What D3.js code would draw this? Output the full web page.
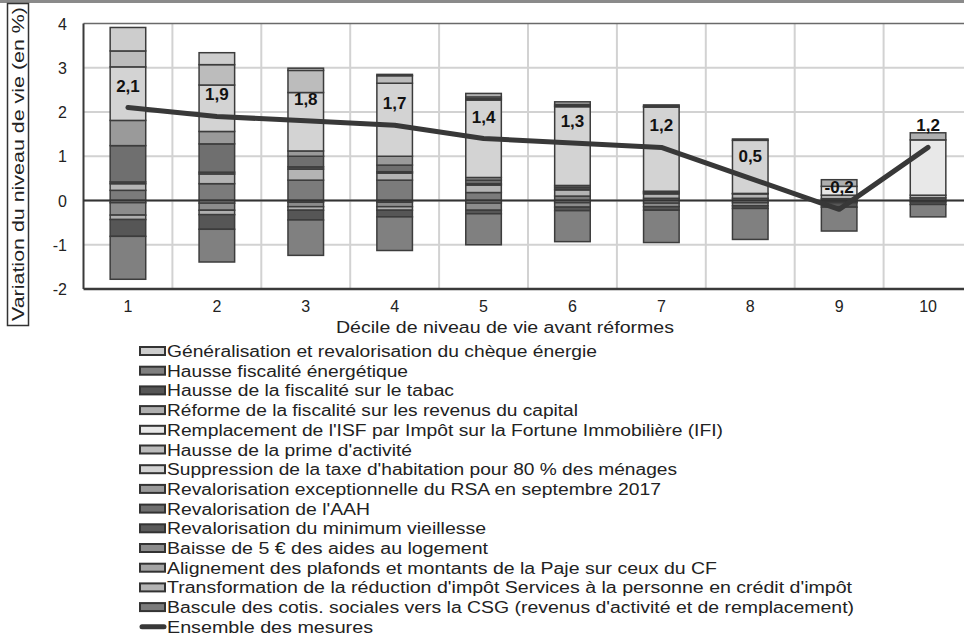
<!DOCTYPE html>
<html lang="fr">
<head>
<meta charset="utf-8">
<script src="https://cdn.jsdelivr.net/npm/d3@7"></script>
<style>
  html, body { margin: 0; padding: 0; background: #fff; }
  svg { display: block; font-family: "Liberation Sans", Arial, sans-serif; }
</style>
</head>
<body>
<svg id="chart" width="964" height="635"></svg>
<script>
// Déciles de niveau de vie
const deciles = ["1", "2", "3", "4", "5", "6", "7", "8", "9", "10"];

// Contribution de chaque mesure à la variation du niveau de vie (en %)
const chequeEnergie        = [0.53, 0.27, 0.05, 0.03, 0, 0, 0, 0, 0, 0];
const fiscaliteEnergetique = [-0.97, -0.74, -0.80, -0.76, -0.70, -0.70, -0.73, -0.70, -0.54, -0.28];
const fiscaliteTabac       = [-0.38, -0.33, -0.22, -0.15, -0.08, -0.08, -0.08, -0.06, -0.10, -0.06];
const revenusCapital       = [-0.10, -0.10, -0.08, -0.08, 0.08, 0.06, 0.03, 0.03, 0.15, 0.16];
const remplacementISF      = [0, 0, 0, 0, 0.04, 0.03, 0, 0, 0.20, 1.25];
const primeActivite        = [0.36, 0.46, 0.50, 0.17, 0.03, 0.02, 0.02, 0, 0, 0];
const taxeHabitation       = [1.21, 1.05, 1.32, 1.65, 1.75, 1.78, 1.90, 1.20, 0, 0];
const revalorisationRSA    = [0.57, 0.28, 0.12, 0.20, 0.06, 0.04, 0.02, 0, 0, 0];
const revalorisationAAH    = [0.82, 0.64, 0.24, 0.15, 0.08, 0.04, 0.02, 0.01, 0, 0];
const minimumVieillesse    = [0.04, 0.04, 0.05, 0.03, 0.03, 0.02, 0.02, 0, 0, 0];
const aidesLogement        = [-0.28, -0.16, -0.10, -0.10, -0.16, -0.10, -0.08, -0.07, -0.02, 0];
const alignementPaje       = [-0.05, -0.06, -0.04, -0.04, -0.06, -0.05, -0.06, -0.05, -0.03, -0.03];
const servicesPersonne     = [0.15, 0.22, 0.25, 0.16, 0.17, 0.14, 0.10, 0.10, 0.08, 0.06];
const basculeCSG           = [0.23, 0.38, 0.46, 0.46, 0.18, 0.10, 0.05, 0.05, 0.04, 0.06];

// Effet de l'ensemble des mesures (en %)
const ensembleMesures = [2.1, 1.9, 1.8, 1.7, 1.4, 1.3, 1.2, 0.5, -0.2, 1.2];

// Graduations de l'axe vertical
const yTicks = [-2, -1, 0, 1, 2, 3, 4];

// Séries dans l'ordre de la légende (w : largeur du libellé)
const series = [
  { key: "cheque",   label: "Généralisation et revalorisation du chèque énergie", values: chequeEnergie, color: "#cdcdcd", w: 430 },
  { key: "energie",  label: "Hausse fiscalité énergétique", values: fiscaliteEnergetique, color: "#808080", w: 241 },
  { key: "tabac",    label: "Hausse de la fiscalité sur le tabac", values: fiscaliteTabac, color: "#565656", w: 287 },
  { key: "capital",  label: "Réforme de la fiscalité sur les revenus du capital", values: revenusCapital, color: "#afafaf", w: 411 },
  { key: "isf",      label: "Remplacement de l'ISF par Impôt sur la Fortune Immobilière (IFI)", values: remplacementISF, color: "#e8e8e8", w: 556 },
  { key: "prime",    label: "Hausse de la prime d'activité", values: primeActivite, color: "#bcbcbc", w: 245 },
  { key: "th",       label: "Suppression de la taxe d'habitation pour 80 % des ménages", values: taxeHabitation, color: "#d3d3d3", w: 510 },
  { key: "rsa",      label: "Revalorisation exceptionnelle du RSA en septembre 2017", values: revalorisationRSA, color: "#9a9a9a", w: 494 },
  { key: "aah",      label: "Revalorisation de l'AAH", values: revalorisationAAH, color: "#6f6f6f", w: 203 },
  { key: "mv",       label: "Revalorisation du minimum vieillesse", values: minimumVieillesse, color: "#5a5a5a", w: 319 },
  { key: "apl",      label: "Baisse de 5 € des aides au logement", values: aidesLogement, color: "#8c8c8c", w: 321 },
  { key: "paje",     label: "Alignement des plafonds et montants de la Paje sur ceux du CF", values: alignementPaje, color: "#a4a4a4", w: 550 },
  { key: "services", label: "Transformation de la réduction d'impôt Services à la personne en crédit d'impôt", values: servicesPersonne, color: "#b4b4b4", w: 685 },
  { key: "csg",      label: "Bascule des cotis. sociales vers la CSG (revenus d'activité et de remplacement)", values: basculeCSG, color: "#7b7b7b", w: 687 }
];

const svg = d3.select("#chart");
const W = 964, H = 635;
const plot = { left: 83.5, right: 972.5, top: 23.5, bottom: 289 };

// Bandeau gris en haut du cadre
svg.append("rect").attr("x", 0).attr("y", 0).attr("width", W).attr("height", 3).attr("fill", "#8a8a8a");

const x = d3.scaleBand().domain(deciles).range([plot.left, plot.right])
  .paddingInner(0.6).paddingOuter(0.3);
const y = d3.scaleLinear().domain([-2, 4]).range([plot.bottom, plot.top]);

// Grille
const grid = svg.append("g");
grid.selectAll("line.h").data(yTicks.filter(t => t !== -2 && t !== 4)).join("line")
  .attr("x1", plot.left).attr("x2", plot.right)
  .attr("y1", d => y(d)).attr("y2", d => y(d))
  .attr("stroke", "#d2d2d2").attr("stroke-width", 2);
grid.selectAll("line.v").data(deciles.slice(1)).join("line")
  .attr("x1", d => x(d) - x.step() * x.paddingInner() / 2)
  .attr("x2", d => x(d) - x.step() * x.paddingInner() / 2)
  .attr("y1", plot.top).attr("y2", plot.bottom)
  .attr("stroke", "#d2d2d2").attr("stroke-width", 2);

// Cadre de la zone de tracé
svg.append("line").attr("x1", plot.left).attr("x2", plot.right).attr("y1", plot.top).attr("y2", plot.top)
  .attr("stroke", "#6a6a6a").attr("stroke-width", 1.5);
svg.append("line").attr("x1", plot.left).attr("x2", plot.left).attr("y1", plot.top).attr("y2", plot.bottom)
  .attr("stroke", "#3a3a3a").attr("stroke-width", 2);
svg.append("line").attr("x1", plot.left).attr("x2", plot.right).attr("y1", plot.bottom).attr("y2", plot.bottom)
  .attr("stroke", "#3a3a3a").attr("stroke-width", 2.5);

// Empilement : la série la plus proche de zéro est la dernière de la légende
const stackOrder = series.slice().reverse();
const table = deciles.map((d, i) => {
  const row = { decile: d };
  series.forEach(s => { row[s.key] = s.values[i]; });
  return row;
});
const stacked = d3.stack().keys(stackOrder.map(s => s.key))
  .offset(d3.stackOffsetDiverging)(table);
const colorOf = Object.fromEntries(series.map(s => [s.key, s.color]));

const bars = svg.append("g");
stacked.forEach(layer => {
  bars.append("g").attr("fill", colorOf[layer.key])
    .selectAll("rect").data(layer.filter(d => d[1] - d[0] !== 0)).join("rect")
    .attr("x", d => x(d.data.decile))
    .attr("width", x.bandwidth())
    .attr("y", d => y(Math.max(d[0], d[1])))
    .attr("height", d => Math.abs(y(d[0]) - y(d[1])))
    .attr("stroke", "#3c3c3c").attr("stroke-width", 1.5);
});

// Ligne du zéro
svg.append("line").attr("x1", plot.left).attr("x2", plot.right).attr("y1", y(0)).attr("y2", y(0))
  .attr("stroke", "#333").attr("stroke-width", 1.8);

// Ligne : ensemble des mesures
const cx = d => x(d) + x.bandwidth() / 2;
const lineGen = d3.line().x((v, i) => cx(deciles[i])).y(v => y(v));
svg.append("path").datum(ensembleMesures).attr("d", lineGen)
  .attr("fill", "none").attr("stroke", "#383838").attr("stroke-width", 5)
  .attr("stroke-linecap", "round").attr("stroke-linejoin", "round");

// Étiquettes de valeurs
const fmt = v => d3.format(".1f")(v).replace(".", ",").replace("−", "-");
svg.append("g").selectAll("text").data(ensembleMesures).join("text")
  .attr("x", (v, i) => cx(deciles[i]))
  .attr("y", v => y(v) - 16)
  .attr("text-anchor", "middle")
  .attr("font-size", 17).attr("font-weight", "bold").attr("fill", "#111")
  .text(fmt);

// Axe vertical : libellés
svg.append("g").selectAll("text").data(yTicks).join("text")
  .attr("x", 67).attr("y", d => y(d) + 6)
  .attr("text-anchor", "end").attr("font-size", 16).attr("fill", "#222")
  .text(d => d3.format("d")(d).replace("−", "-"));

// Axe horizontal : libellés
svg.append("g").selectAll("text").data(deciles).join("text")
  .attr("x", d => cx(d)).attr("y", 312)
  .attr("text-anchor", "middle").attr("font-size", 16).attr("fill", "#222")
  .text(d => d);

// Titre de l'axe horizontal
svg.append("text").attr("x", 505).attr("y", 333).attr("text-anchor", "middle")
  .attr("font-size", 16).attr("fill", "#222")
  .attr("textLength", 338).attr("lengthAdjust", "spacingAndGlyphs")
  .text("Décile de niveau de vie avant réformes");

// Titre de l'axe vertical, encadré
svg.append("rect").attr("x", 7.5).attr("y", 3.5).attr("width", 21).attr("height", 322)
  .attr("fill", "none").attr("stroke", "#333").attr("stroke-width", 1.5);
svg.append("text").attr("transform", "translate(24,164) rotate(-90)")
  .attr("text-anchor", "middle").attr("font-size", 17).attr("fill", "#222")
  .attr("textLength", 314).attr("lengthAdjust", "spacingAndGlyphs")
  .text("Variation du niveau de vie (en %)");

// Légende
const legend = svg.append("g");
const rowY = i => 351 + i * 19.7;
series.forEach((s, i) => {
  legend.append("rect").attr("x", 140).attr("y", rowY(i) - 4).attr("width", 25).attr("height", 8)
    .attr("fill", s.color).attr("stroke", "#333").attr("stroke-width", 2);
  legend.append("text").attr("x", 167).attr("y", rowY(i) + 6)
    .attr("font-size", 16).attr("fill", "#222")
    .attr("textLength", s.w).attr("lengthAdjust", "spacingAndGlyphs")
    .text(s.label);
});
const li = series.length;
legend.append("line").attr("x1", 142).attr("x2", 164).attr("y1", rowY(li)).attr("y2", rowY(li))
  .attr("stroke", "#383838").attr("stroke-width", 5).attr("stroke-linecap", "round");
legend.append("text").attr("x", 167).attr("y", rowY(li) + 6)
  .attr("font-size", 16).attr("fill", "#222")
  .attr("textLength", 206).attr("lengthAdjust", "spacingAndGlyphs")
  .text("Ensemble des mesures");
</script>
</body>
</html>
